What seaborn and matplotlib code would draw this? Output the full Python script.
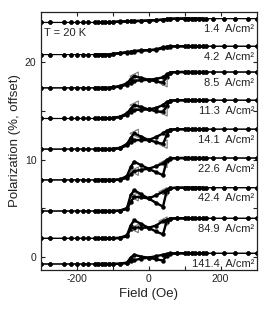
import numpy as np
import pandas as pd
import matplotlib
matplotlib.use("Agg")
import matplotlib.pyplot as plt
import seaborn as sns

# ---------------- data ----------------
currents = ["1.4", "4.2", "8.5", "11.3", "14.1", "22.6", "42.4", "84.9", "141.4"]
low = [24.1, 20.8, 17.37, 14.22, 11.07, 7.9, 4.7, 1.89, -0.75]
high = [24.5, 21.65, 19.0, 16.1, 13.12, 10.15, 7.1, 3.95, 0.35]

field_left = [-300, -275, -235, -215, -200, -183, -167, -150, -140, -130, -120, -110]
field_mid = [-100, -80, -60, -50, -40, -20, 0, 20, 40, 50, 60, 80, 100]
field_right = [110, 120, 130, 140, 150, 160, 180, 210, 240, 275, 300]

branch_a = {
    "1.4":   [24.17, 24.2, 24.22, 24.24, 24.25, 24.27, 24.3, 24.33, 24.38, 24.43, 24.47, 24.5, 24.5],
    "4.2":   [20.88, 20.95, 21.05, 21.1, 21.18, 21.22, 21.25, 21.28, 21.45, 21.55, 21.62, 21.65, 21.65],
    "8.5":   [17.45, 17.55, 17.85, 18.25, 18.57, 18.4, 18.2, 18.05, 17.9, 18.5, 18.95, 19.0, 19.0],
    "11.3":  [14.3, 14.4, 14.75, 15.2, 15.6, 15.4, 15.15, 14.98, 14.88, 15.5, 16.05, 16.1, 16.1],
    "14.1":  [11.1, 11.2, 11.6, 12.2, 12.68, 12.35, 12.0, 11.8, 11.58, 12.5, 13.05, 13.12, 13.12],
    "22.6":  [7.9, 7.95, 8.3, 9.2, 9.78, 9.4, 9.05, 8.7, 8.4, 9.8, 10.12, 10.15, 10.15],
    "42.4":  [4.7, 4.75, 5.0, 6.3, 6.85, 6.4, 6.0, 5.55, 5.15, 6.7, 7.05, 7.1, 7.1],
    "84.9":  [1.9, 1.95, 2.2, 3.2, 3.75, 3.35, 2.98, 2.6, 2.3, 3.6, 3.92, 3.95, 3.95],
    "141.4": [-0.75, -0.72, -0.6, -0.1, 0.2, 0.0, -0.1, -0.25, -0.4, 0.1, 0.3, 0.35, 0.35],
}
branch_b = {
    "1.4":   [24.15, 24.18, 24.2, 24.22, 24.24, 24.26, 24.3, 24.34, 24.4, 24.45, 24.48, 24.5, 24.5],
    "4.2":   [20.86, 20.92, 21.0, 21.05, 21.1, 21.2, 21.25, 21.32, 21.55, 21.6, 21.63, 21.65, 21.65],
    "8.5":   [17.42, 17.5, 17.7, 17.9, 18.1, 18.15, 18.2, 18.3, 18.45, 18.75, 18.95, 19.0, 19.0],
    "11.3":  [14.27, 14.35, 14.6, 14.85, 15.1, 15.12, 15.15, 15.3, 15.6, 15.9, 16.05, 16.1, 16.1],
    "14.1":  [11.08, 11.15, 11.45, 11.75, 12.0, 12.0, 12.0, 12.3, 12.68, 12.95, 13.08, 13.12, 13.12],
    "22.6":  [7.9, 7.93, 8.1, 8.5, 8.8, 8.95, 9.05, 9.3, 9.6, 9.95, 10.1, 10.15, 10.15],
    "42.4":  [4.7, 4.73, 4.9, 5.6, 6.17, 6.1, 6.0, 6.3, 6.68, 6.9, 7.05, 7.1, 7.1],
    "84.9":  [1.9, 1.92, 2.1, 2.9, 3.0, 3.0, 2.98, 3.2, 3.65, 3.8, 3.92, 3.95, 3.95],
    "141.4": [-0.75, -0.73, -0.65, -0.4, -0.35, -0.2, -0.1, 0.05, 0.2, 0.28, 0.33, 0.35, 0.35],
}
tri_field = [-40, 40]
tri_vals = {
    "8.5": [18.57, 17.9],
    "11.3": [15.59, 14.9],
    "14.1": [12.68, 11.58],
    "22.6": [8.8, 9.6],
    "42.4": [6.17, 6.68],
    "84.9": [2.9, 3.66],
}

# ---------------- style ----------------
sns.set_theme(style="ticks")
plt.rcParams["font.family"] = ["Liberation Sans", "DejaVu Sans"]

fig = plt.figure(figsize=(2.67, 3.10), dpi=100)
ax = fig.add_axes([0.152, 0.129, 0.809, 0.833])

rows = []
for i, c in enumerate(currents):
    for bname, bvals in (("a", branch_a[c]), ("b", branch_b[c])):
        vals = [low[i]] * len(field_left) + list(bvals) + [high[i]] * len(field_right)
        flds = field_left + field_mid + field_right
        for f, v in zip(flds, vals):
            rows.append({"field": f, "pol": v, "curve": c, "branch": bname,
                         "unit": c + bname})
df = pd.DataFrame(rows)

sns.lineplot(data=df, x="field", y="pol", units="unit", estimator=None,
             color="black", lw=0.8, ax=ax, legend=False)
sns.scatterplot(data=df, x="field", y="pol", color="black", s=8,
                edgecolor="black", linewidth=0.3, ax=ax, legend=False)
mid = df[(df["field"] >= -150) & (df["field"] <= 150)]
sns.lineplot(data=mid, x="field", y="pol", units="unit", estimator=None,
             color="black", lw=1.7, ax=ax, legend=False)

trows = []
for c, tv in tri_vals.items():
    for f, v in zip(tri_field, tv):
        trows.append({"field": f, "pol": v})
tdf = pd.DataFrame(trows)
sns.scatterplot(data=tdf, x="field", y="pol", marker="<", s=36,
                facecolor="none", edgecolor="#777777", linewidth=0.8, ax=ax, legend=False)

for i, c in enumerate(currents):
    ax.text(294, high[i] - 1.1, f"{c}  A/cm\u00b2", ha="right", va="center",
            fontsize=8, color="#222222")
ax.text(-290, 23.0, "T = 20 K", ha="left", va="center", fontsize=8, color="#222222")

ax.set_xlim(-300, 300)
ax.set_ylim(-1.37, 25.2)
ax.set_xticks([-200, -100, 0, 100, 200])
ax.set_xticklabels(["-200", "", "0", "", "200"])
ax.set_yticks([0, 5, 10, 15, 20])
ax.set_yticklabels(["0", "", "10", "", "20"])
ax.tick_params(direction="in", top=True, right=True, length=3, width=0.8,
               labelsize=7.5, pad=3, colors="#222222")
for s in ax.spines.values():
    s.set_linewidth(0.9)
    s.set_color("#222222")
ax.set_xlabel("Field (Oe)", fontsize=9.5, color="#222222", labelpad=3)
ax.set_ylabel("Polarization (%, offset)", fontsize=9.5, color="#222222", labelpad=3)

fig.savefig("out.png", dpi=100)
